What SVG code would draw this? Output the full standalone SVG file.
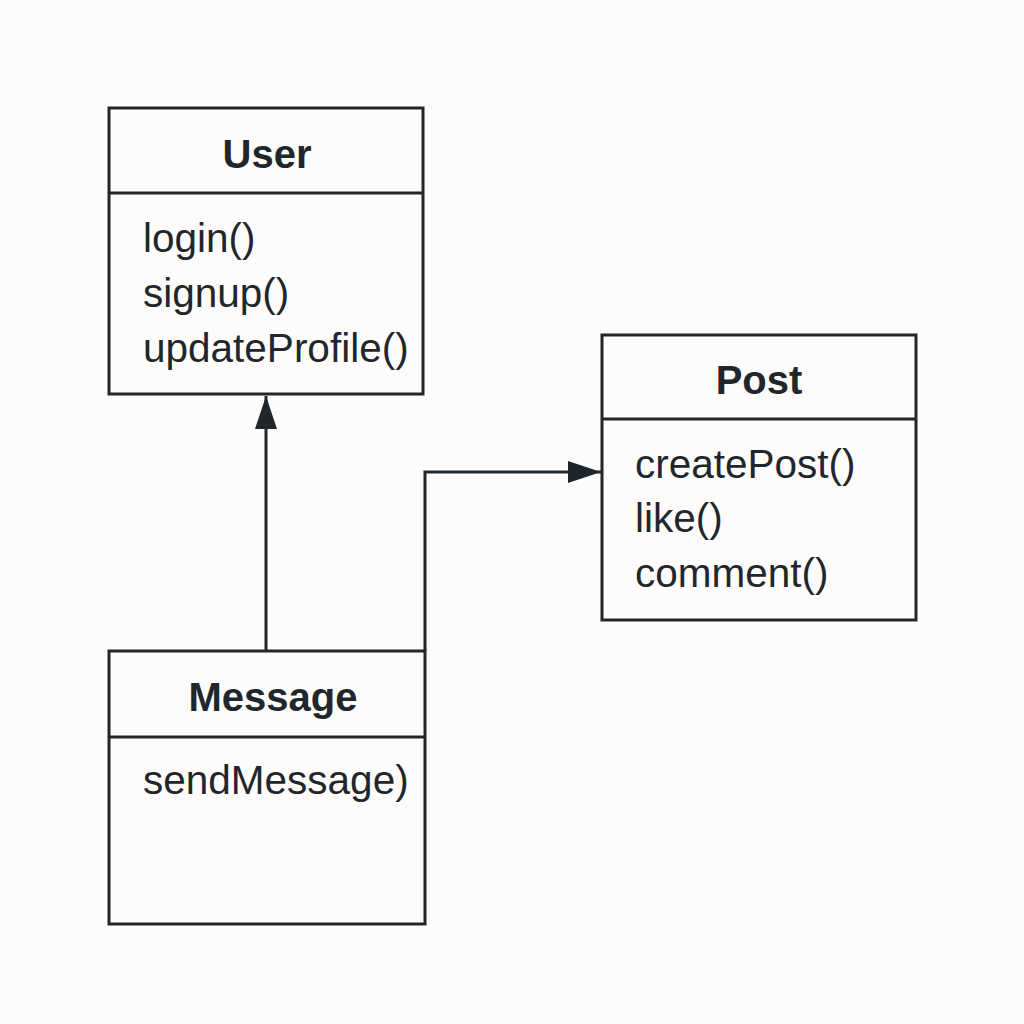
<svg xmlns="http://www.w3.org/2000/svg" width="1024" height="1024" viewBox="0 0 1024 1024">
<style>
.box{fill:#fdfcfa;stroke:#1f272d;stroke-width:3}
.div{stroke:#1f272d;stroke-width:3}
.title{font-family:"Liberation Sans",Arial,sans-serif;font-weight:bold;font-size:40px;fill:#1f272d;text-anchor:middle}
.m{font-family:"Liberation Sans",Arial,sans-serif;font-size:40.5px;fill:#1f272d}
.conn{fill:none;stroke:#1f272d;stroke-width:3}
</style>
<defs>
<marker id="tri" viewBox="0 0 33 22" refX="33" refY="11" markerWidth="33" markerHeight="22" orient="auto" markerUnits="userSpaceOnUse">
<path d="M0,0 L33,11 L0,22 Z" fill="#1f272d"/>
</marker>
</defs>
<rect width="1024" height="1024" fill="#fdfcfa"/>
<g id="connectors">
<path class="conn" d="M266,651 L266,396" marker-end="url(#tri)"/>
<path class="conn" d="M425,651 L425,472 L601,472" marker-end="url(#tri)"/>
</g>
<g id="user">
<rect class="box" x="109" y="108" width="314" height="286"/>
<line class="div" x1="109" y1="193" x2="423" y2="193"/>
<text class="title" x="267" y="168">User</text>
<text class="m" x="143" y="252">login()</text>
<text class="m" x="143" y="307">signup()</text>
<text class="m" x="143" y="362">updateProfile()</text>
</g>
<g id="post">
<rect class="box" x="602" y="335" width="314" height="285"/>
<line class="div" x1="602" y1="419" x2="916" y2="419"/>
<text class="title" x="759" y="394">Post</text>
<text class="m" x="635" y="478">createPost()</text>
<text class="m" x="635" y="532">like()</text>
<text class="m" x="635" y="587">comment()</text>
</g>
<g id="message">
<rect class="box" x="109" y="651" width="316" height="273"/>
<line class="div" x1="109" y1="737" x2="425" y2="737"/>
<text class="title" x="273" y="711">Message</text>
<text class="m" x="143" y="794">sendMessage)</text>
</g>
</svg>
